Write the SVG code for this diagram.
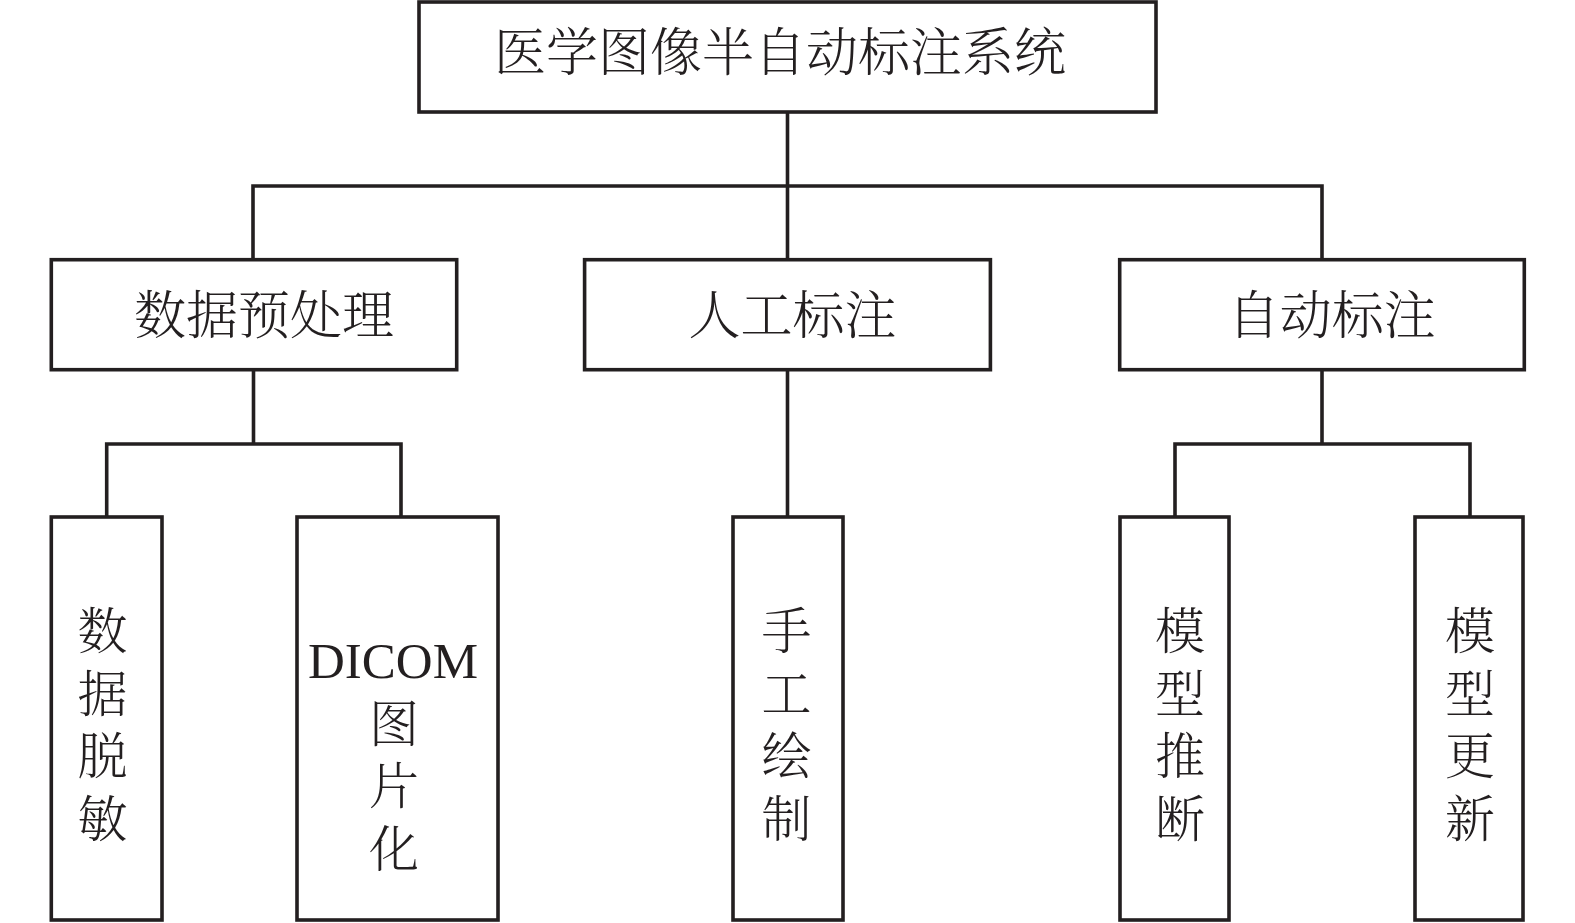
<svg xmlns="http://www.w3.org/2000/svg" width="1575" height="923" viewBox="0 0 1575 923">
<style>
.box{fill:#fff;stroke:#231f20;stroke-width:3.6}
.ln{fill:none;stroke:#231f20;stroke-width:3.6;stroke-linecap:square}
.t{font-family:"Noto Serif CJK SC","Noto Sans CJK SC",serif;font-weight:300;fill:#231f20;text-anchor:middle}
.l{font-size:52px}
.v{font-size:50px;text-anchor:start;writing-mode:vertical-rl;letter-spacing:12.5px}
.dc{font-family:"Liberation Serif","Noto Sans CJK SC",serif;font-size:51px;fill:#231f20;text-anchor:middle}
</style>
<rect width="1575" height="923" fill="#fff"/>
<g id="connectors">
<path class="ln" d="M787.5 112V186M253 186H1322M253 186V259.7M787.5 186V259.7M1322 186V259.7"/>
<path class="ln" d="M253.5 369.7V444M106.7 444H401M106.7 444V517M401 444V517"/>
<path class="ln" d="M787.5 369.7V517"/>
<path class="ln" d="M1322 369.7V444M1175 444H1470M1175 444V517M1470 444V517"/>
</g>
<g id="root">
<rect class="box" x="419" y="2" width="737" height="110"/>
<text class="t l" x="780" y="71">医学图像半自动标注系统</text>
</g>
<g id="preprocess">
<rect class="box" x="51.3" y="259.7" width="405.4" height="110"/>
<text class="t l" x="264" y="334">数据预处理</text>
</g>
<g id="manual">
<rect class="box" x="584.6" y="259.7" width="405.8" height="110"/>
<text class="t l" x="792.5" y="334">人工标注</text>
</g>
<g id="auto">
<rect class="box" x="1119.7" y="259.7" width="404.6" height="110"/>
<text class="t l" x="1331.7" y="334">自动标注</text>
</g>
<g id="desensitize">
<rect class="box" x="51.3" y="517" width="110.7" height="403"/>
<text class="t v" x="102.6" y="605">数据脱敏</text>
</g>
<g id="dicom">
<rect class="box" x="297" y="517" width="201" height="403"/>
<text class="dc" x="393" y="678">DICOM</text>
<text class="t v" x="394" y="697.5">图片化</text>
</g>
<g id="drawing">
<rect class="box" x="733" y="517" width="110" height="403"/>
<text class="t v" x="786.5" y="605">手工绘制</text>
</g>
<g id="inference">
<rect class="box" x="1120" y="517" width="109" height="403"/>
<text class="t v" x="1180" y="605">模型推断</text>
</g>
<g id="update">
<rect class="box" x="1415" y="517" width="108" height="403"/>
<text class="t v" x="1470" y="605">模型更新</text>
</g>
</svg>
